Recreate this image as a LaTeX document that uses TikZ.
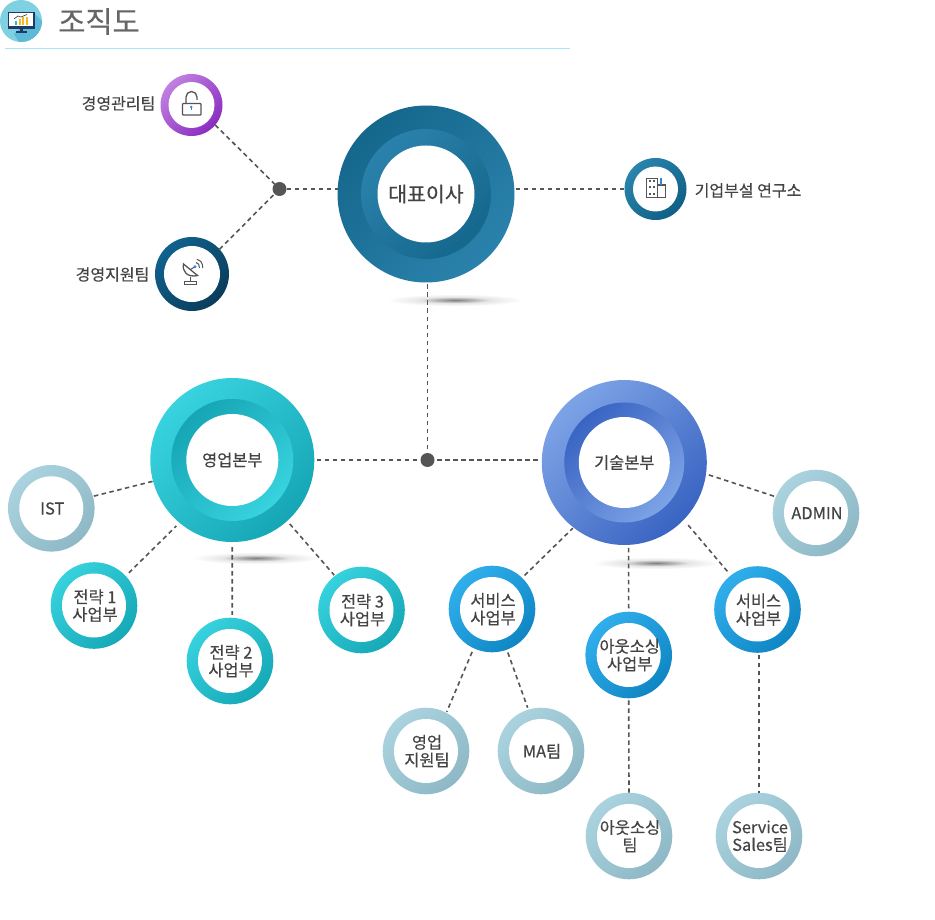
\documentclass[tikz,border=0pt]{standalone}
\usepackage{fontspec}
\setmainfont{Noto Sans CJK KR}[RawFeature={embolden=0.35}]
\usetikzlibrary{calc}
\definecolor{txt}{HTML}{444444}
\definecolor{linec}{HTML}{555555}
\definecolor{titlec}{HTML}{666666}
\definecolor{rulec}{HTML}{A8E4F8}
\definecolor{hdA}{HTML}{7FD0E0}
\definecolor{hdB}{HTML}{5CBAD6}
\definecolor{navy}{HTML}{1F3A66}
\definecolor{barA}{HTML}{2FB4DC}
\definecolor{barB}{HTML}{F5B81E}
\definecolor{iconblue}{HTML}{2E86DE}
\definecolor{ceoA}{HTML}{15678C}
\definecolor{ceoB}{HTML}{2A82AC}
\definecolor{salA}{HTML}{38D3DF}
\definecolor{salB}{HTML}{16A6B6}
\definecolor{tecA}{HTML}{7DA3E6}
\definecolor{tecB}{HTML}{3964C2}
\definecolor{purA}{HTML}{C080E0}
\definecolor{purB}{HTML}{8A2CC0}
\definecolor{dkA}{HTML}{10628E}
\definecolor{dkB}{HTML}{0A3C5A}
\definecolor{lbA}{HTML}{2A84AC}
\definecolor{lbB}{HTML}{0F5F85}
\definecolor{palA}{HTML}{AAD3DF}
\definecolor{palB}{HTML}{8FB8C6}
\definecolor{tlA}{HTML}{36D2DE}
\definecolor{tlB}{HTML}{16A8B6}
\definecolor{bluA}{HTML}{30AEEC}
\definecolor{bluB}{HTML}{0F86C4}
\definecolor{flA}{HTML}{808080}
\definecolor{flB}{HTML}{AEAEAE}
\definecolor{flC}{HTML}{E6E6E6}
\pgfdeclareradialshading{floorshade}{\pgfpoint{0bp}{0bp}}{
  color(0bp)=(flA);
  color(6bp)=(flB);
  color(13bp)=(flC);
  color(25bp)=(white);
  color(50bp)=(white)}
\newcommand{\ringnode}[8]{% name, x, y, r, rin, light, dark, text
  \node[disc, minimum size=#4*2pt, top color=#6, bottom color=#7, shading angle=45] (#1) at (#2,#3) {};
  \node[inner, minimum size=#5*2pt] (#1t) at (#2,#3) {};
  \node[words] (#1w) at ($(#1t)+(1.0,0.2)$) {#8};
}
\newcommand{\bigring}[9]{% name,x,y,r,rmid,rin,light,dark,text
  \node[disc, minimum size=#4*2pt, top color=#7, bottom color=#8, shading angle=45] (#1) at (#2,#3) {};
  \node[disc, minimum size=#5*2pt, top color=#8, bottom color=#7, shading angle=45] (#1m) at (#2,#3) {};
  \node[inner, minimum size=#6*2pt] (#1t) at (#2,#3) {};
  \node[words] (#1w) at (#1t) {#9};
}
\tikzset{
  disc/.style={circle, draw=none, inner sep=0pt, outer sep=0pt},
  inner/.style={circle, fill=white, inner sep=0pt, outer sep=0pt},
  words/.style={inner sep=0pt, outer sep=0pt, text=txt, align=center, font=\fontsize{16.4}{17.6}\selectfont},
  conn/.style={draw=linec, line width=1.6pt, dash pattern=on 4.5pt off 3.5pt},
  dot/.style={circle, fill=linec, inner sep=0pt, outer sep=0pt, minimum size=14pt},
  lab/.style={text=txt, inner sep=0pt, font=\fontsize{16}{18}\selectfont},
  icon/.style={draw=linec, line width=1.3pt, fill=none}
}
\begin{document}
\begin{tikzpicture}[x=1pt,y=-1pt]
\useasboundingbox (0,0) rectangle (935,920);
\fill[white] (0,0) rectangle (935,920);

% floor shadows
\shade[shading=floorshade] (455,300) ellipse (68pt and 6pt);
\shade[shading=floorshade] (256,558) ellipse (64pt and 6pt);
\shade[shading=floorshade] (656,563) ellipse (64pt and 6pt);

% header
\fill[hdA] (21,21) circle (21pt);
\begin{scope}
  \clip (21,21) circle (21pt);
  \fill[hdB] (35,14) -- (60,40) -- (30,60) -- (14,34) -- cycle;
\end{scope}
\fill[navy] (7.7,11.7) rectangle (35,29.3);
\fill[white] (9.3,13.3) rectangle (33.4,26);
\fill[navy] (20,29) rectangle (23.3,32);
\fill[navy] (16,31.5) rectangle (26.7,33);
\fill[barA] (15,21) rectangle (17,25);
\fill[barB] (18.5,19) rectangle (20.5,25);
\fill[barB] (22,17.5) rectangle (24,25);
\fill[barB] (25.5,17) rectangle (27.5,25);
\draw[black!80, line width=.6pt] (14,19) -- (18,16) -- (21,17) -- (27,14.5);
\node[text=titlec, inner sep=0pt, font=\fontsize{29.5}{32}\selectfont] (title) at (99,21.5) {조직도};
\coordinate (ruleA) at (5,48.5);
\coordinate (ruleB) at (570,48.5);
\draw[rulec, line width=.9pt] (ruleA) -- (ruleB);

% big rings
\bigring{ceo}{426}{194}{88.5}{65}{48.5}{ceoA}{ceoB}{\fontsize{20.5}{22}\selectfont 대표이사}
\bigring{sales}{232.3}{460}{82}{61}{46}{salA}{salB}{영업본부}
\bigring{tech}{624.3}{462.5}{82.5}{60}{45.5}{tecA}{tecB}{기술본부}

% small rings
\ringnode{mgmt}{191.5}{105}{31}{23}{purA}{purB}{}
\ringnode{supp}{192}{274}{37}{28}{dkA}{dkB}{}
\ringnode{lab}{655.5}{189}{31}{22.5}{lbA}{lbB}{}

\ringnode{ist}{51.3}{508.3}{43.3}{32}{palA}{palB}{IST}
\ringnode{admin}{816}{513}{43.3}{32}{palA}{palB}{ADMIN}
\ringnode{st1}{94}{605.5}{43.3}{32}{tlA}{tlB}{전략 1\\사업부}
\ringnode{st2}{230}{661}{43.3}{32}{tlA}{tlB}{전략 2\\사업부}
\ringnode{st3}{361.5}{610}{43.3}{32}{tlA}{tlB}{전략 3\\사업부}
\ringnode{svc1}{492}{609}{43.3}{32}{bluA}{bluB}{서비스\\사업부}
\ringnode{outs}{628.7}{655}{43.3}{32}{bluA}{bluB}{아웃소싱\\사업부}
\ringnode{svc2}{757.5}{609.5}{43.3}{32}{bluA}{bluB}{서비스\\사업부}
\ringnode{sup2}{426}{751}{43.3}{32}{palA}{palB}{영업\\지원팀}
\ringnode{ma}{541}{751}{43.3}{32}{palA}{palB}{MA팀}
\ringnode{outt}{629}{836}{43.3}{32}{palA}{palB}{아웃소싱\\팀}
\ringnode{ssal}{759}{836}{43.3}{32}{palA}{palB}{Service\\Sales팀}

% junctions
\node[dot] (j1) at (279.5,189) {};
\node[dot] (j2) at (427.5,460) {};

% connectors
\draw[conn] (mgmt.-40) -- (j1);
\draw[conn] (supp.42) -- (j1);
\draw[conn] (j1) -- (ceo.west |- j1);
\draw[conn, shorten <=1pt] (ceo.east |- lab.west) -- (lab.west);
\draw[conn, shorten <=2pt] (j2 |- ceo.south) -- (j2);
\draw[conn, shorten <=2.5pt] (sales.east |- j2) -- (j2);
\draw[conn, shorten <=4pt] (tech.west |- j2) -- (j2);
\draw[conn, shorten <=1pt] (ist.16) -- (sales.195);
\draw[conn, shorten <=4.5pt, shorten >=4.5pt] (st1.43) -- (sales.230.6);
\draw[conn, shorten <=5pt, shorten >=3pt] (sales.-90) -- (st2.87);
\draw[conn, shorten <=4pt, shorten >=1pt] (sales.-48) -- (st3.128);
\draw[conn, shorten <=3.5pt, shorten >=1pt] (svc1.46.7) -- (tech.232);
\draw[conn, shorten <=3pt] (tech.273) -- (outs.north);
\draw[conn, shorten <=7pt, shorten >=2pt] (tech.-44) -- (svc2.128);
\draw[conn, shorten <=3pt, shorten >=2pt] (tech.-8) -- (admin.158);
\draw[conn, shorten <=4pt, shorten >=1pt] (svc1.245) -- (sup2.62);
\draw[conn, shorten <=3pt, shorten >=2pt] (svc1.-70) -- (ma.107);
\draw[conn, shorten <=2pt] (outs.south) -- (outt.north);
\draw[conn, shorten <=2pt] (svc2.south -| ssal.north) -- (ssal.north);

% side labels
\node[lab, anchor=east] (lmgmt) at (155.5,103.5) {경영관리팀};
\node[lab, anchor=east] (lsupp) at (149.5,274.5) {경영지원팀};
\node[lab, anchor=west] (llab) at (694.5,190.5) {기업부설 연구소};

% lock icon
\draw[icon, rounded corners=.8pt] (182.5,103.5) rectangle (201,115);
\draw[icon] (186,103.5) -- (186,97) arc[start angle=180, end angle=0, radius=5.5pt] -- (197,100);
\fill[iconblue] (191.3,107) circle (1.4pt);
\fill[iconblue] (190.6,107) rectangle (192,110.5);

% dish icon
\draw[icon] (183.5,264) .. controls (182,271) and (187,278) .. (197.5,275.5) -- cycle;
\draw[icon] (190.7,277.5) -- (190.7,281);
\draw[icon] (184.5,281.3) rectangle (196.7,284.8);
\draw[icon, line width=1pt] (190.5,269.5) -- (195,266.7);
\fill[iconblue] (195,266.7) circle (1.6pt);
\draw[icon, line width=1pt] (196,262.5) .. controls (198.5,263) and (199.5,265) .. (199.5,268);
\draw[icon, line width=1pt] (196.7,259.5) .. controls (200.5,260) and (203,263) .. (202.7,268);

% building icon
\draw[icon] (646.7,178.5) rectangle (657.3,197.5);
\draw[icon] (657.3,185) rectangle (665.7,197.5);
\foreach \yy in {181,187.5,194} {
  \fill[linec] (648.5,\yy-1) rectangle (650.5,\yy+1);
  \fill[linec] (653,\yy-1) rectangle (655,\yy+1);
}
\fill[iconblue] (660.3,178) rectangle (662,185);
\end{tikzpicture}
\end{document}
